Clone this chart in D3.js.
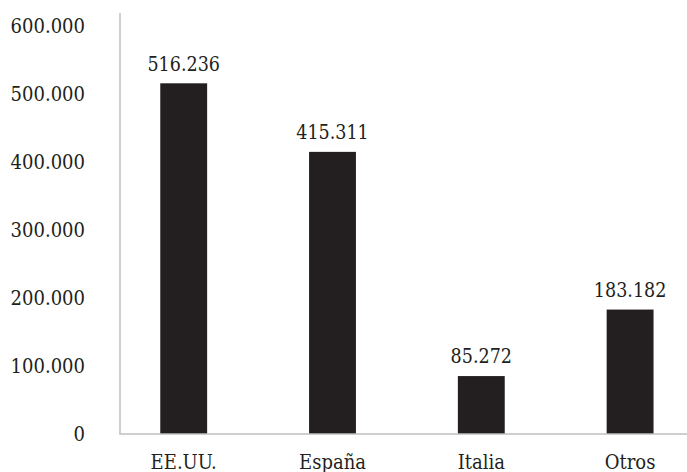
<!DOCTYPE html>
<html>
<head>
<meta charset="utf-8">
<script src="https://cdn.jsdelivr.net/npm/d3@7/dist/d3.min.js"></script>
<style>
  html, body { margin: 0; padding: 0; background: #fff; }
  svg text { font-family: "DejaVu Serif Condensed", "DejaVu Serif", serif; font-stretch: condensed; fill: #231f20; }
</style>
</head>
<body>
<svg id="chart" width="687" height="472"></svg>
<script>
const categories = ["EE.UU.", "España", "Italia", "Otros"];
const values = [516236, 415311, 85272, 183182];
const yTicks = [0, 100000, 200000, 300000, 400000, 500000, 600000];
const yTickLabels = ["0", "100.000", "200.000", "300.000", "400.000", "500.000", "600.000"];
const valueLabels = ["516.236", "415.311", "85.272", "183.182"];

const svg = d3.select("#chart");
const x = d3.scaleBand().domain(categories).range([109.3, 704.5]).paddingInner(0.685).paddingOuter(0.3425);
const y = d3.scaleLinear().domain([0, 600000]).range([434, 26.4]);

// bars
svg.append("g").selectAll("rect").data(categories).join("rect")
  .attr("x", d => x(d))
  .attr("width", x.bandwidth())
  .attr("y", (d, i) => y(values[i]))
  .attr("height", (d, i) => y(0) - y(values[i]))
  .attr("fill", "#231f20");

// y axis
const yAxis = d3.axisLeft(y).tickValues(yTicks).tickFormat((d, i) => yTickLabels[i]).tickSize(0).tickPadding(0);
const gy = svg.append("g").attr("transform", "translate(85,0)").call(yAxis);
gy.select(".domain").remove();
gy.selectAll("text").attr("font-size", 20).attr("dy", 6).style("font-family", null).attr("font-family", null);

// axis lines
svg.append("line").attr("x1", 120).attr("x2", 120).attr("y1", 13).attr("y2", 434)
  .attr("stroke", "#bfbfbf").attr("stroke-width", 1.5);
svg.append("line").attr("x1", 119.25).attr("x2", 687).attr("y1", y(0)).attr("y2", y(0))
  .attr("stroke", "#bfbfbf").attr("stroke-width", 1.5);

// x axis labels
const xAxis = d3.axisBottom(x).tickSize(0).tickPadding(0);
const gx = svg.append("g").attr("transform", "translate(0,434)").call(xAxis);
gx.select(".domain").remove();
gx.selectAll("text").attr("font-size", 20).attr("dy", 0).attr("y", 35.3).attr("font-family", null);

// value labels
svg.append("g").selectAll("text").data(categories).join("text")
  .attr("x", d => x(d) + x.bandwidth() / 2)
  .attr("y", (d, i) => y(values[i]) - 12.6)
  .attr("text-anchor", "middle")
  .attr("font-size", 19.5)
  .text((d, i) => valueLabels[i]);
</script>
</body>
</html>
